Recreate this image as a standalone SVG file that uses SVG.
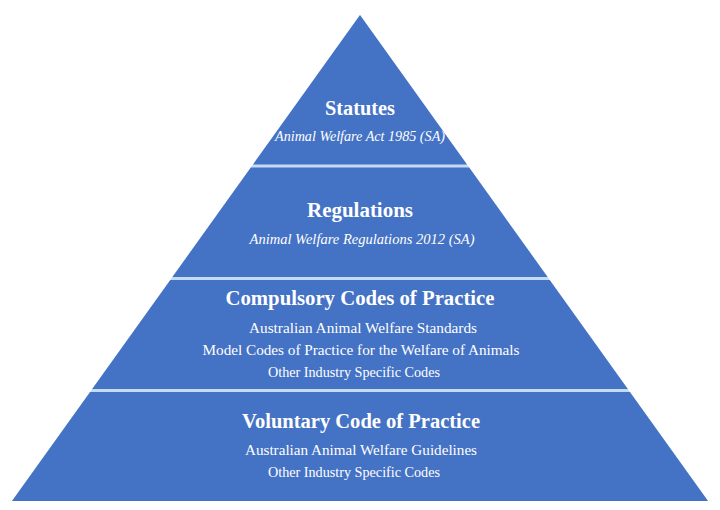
<svg xmlns="http://www.w3.org/2000/svg" width="720" height="510" viewBox="0 0 720 510">
<style>
.tier{fill:#4472C4}
.t{font-family:"Liberation Serif","DejaVu Serif",serif;fill:#ffffff;text-anchor:middle}
.h{font-weight:bold;font-size:20.5px}
.s{font-size:14px}
.i{font-style:italic}
</style>
<rect width="720" height="510" fill="#ffffff"/>
<polygon points="360,15 708,501 12,501" fill="#C6DBF1"/>
<g id="statutes">
<polygon class="tier" points="360,15 467,164.5 253,164.5"/>
<text class="t h" x="360" y="115" textLength="70" lengthAdjust="spacingAndGlyphs">Statutes</text>
<text class="t s i" x="360" y="141" textLength="170" lengthAdjust="spacingAndGlyphs">Animal Welfare Act 1985 (SA)</text>
</g>
<g id="regulations">
<polygon class="tier" points="250.8,167.5 469.2,167.5 547.6,277 172.4,277"/>
<text class="t h" x="360" y="217" textLength="106" lengthAdjust="spacingAndGlyphs">Regulations</text>
<text class="t s i" x="362" y="244" textLength="225" lengthAdjust="spacingAndGlyphs">Animal Welfare Regulations 2012 (SA)</text>
</g>
<g id="compulsory">
<polygon class="tier" points="170.3,280 549.7,280 627.8,389 92.2,389"/>
<text class="t h" x="360" y="305" textLength="269" lengthAdjust="spacingAndGlyphs">Compulsory Codes of Practice</text>
<text class="t s" x="363" y="333" textLength="228" lengthAdjust="spacingAndGlyphs">Australian Animal Welfare Standards</text>
<text class="t s" x="361" y="355" textLength="317" lengthAdjust="spacingAndGlyphs">Model Codes of Practice for the Welfare of Animals</text>
<text class="t s" x="354" y="377" textLength="172" lengthAdjust="spacingAndGlyphs">Other Industry Specific Codes</text>
</g>
<g id="voluntary">
<polygon class="tier" points="90.1,392 629.9,392 708,501 12,501"/>
<text class="t h" x="361" y="428" textLength="238" lengthAdjust="spacingAndGlyphs">Voluntary Code of Practice</text>
<text class="t s" x="361" y="455" textLength="232" lengthAdjust="spacingAndGlyphs">Australian Animal Welfare Guidelines</text>
<text class="t s" x="354" y="477" textLength="172" lengthAdjust="spacingAndGlyphs">Other Industry Specific Codes</text>
</g>
</svg>
